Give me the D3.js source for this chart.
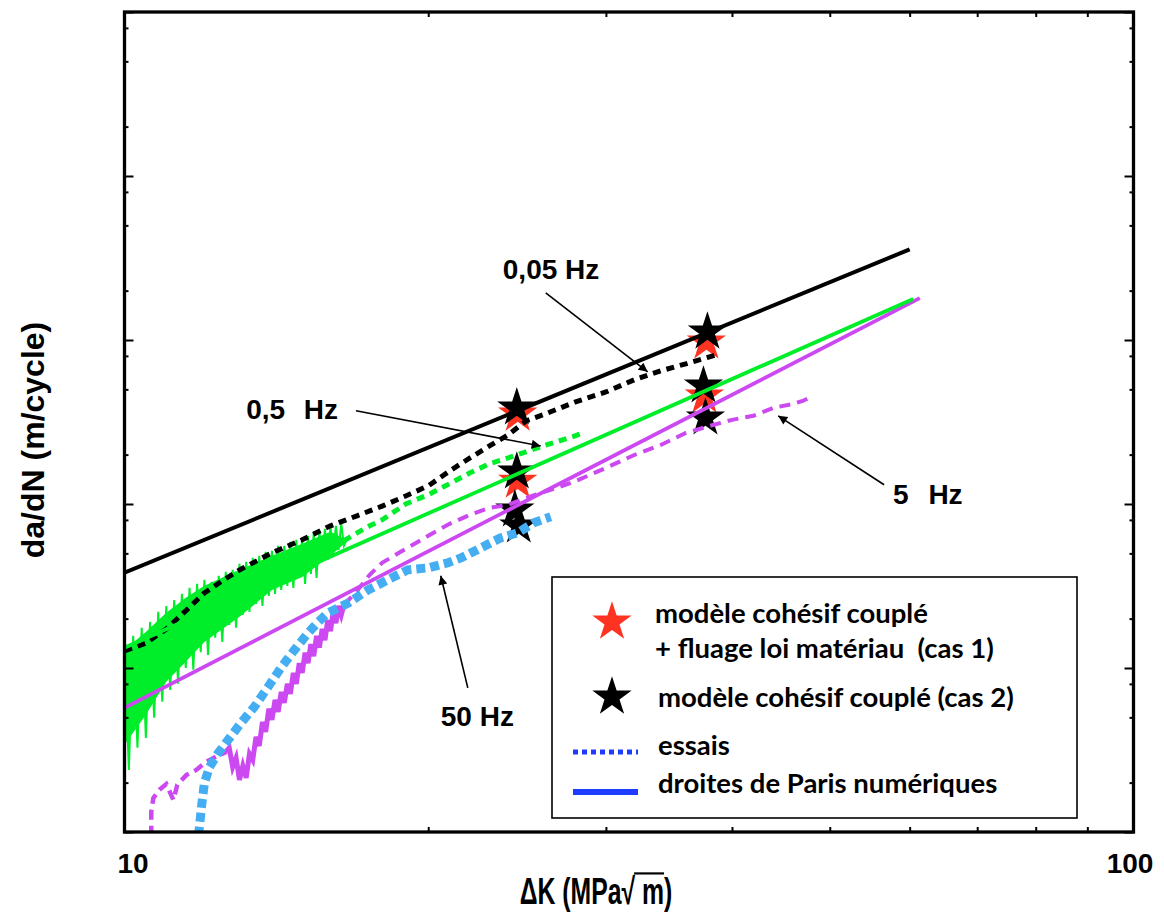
<!DOCTYPE html>
<html><head><meta charset="utf-8">
<script src="https://cdn.jsdelivr.net/npm/d3@7"></script>
<style>
body{margin:0;background:#fff;}
svg{display:block;}
</style></head><body>
<svg id="chart" width="1164" height="918"></svg>
<script>
// ---------------- DATA ----------------
const xTickLabels = [10, 100];
const xMinorTicks = [20, 30, 40, 50, 60, 70, 80, 90];
const yMajorTicks = [1e-10, 1e-9, 1e-8, 1e-7, 1e-6, 1e-5];
const yMinorTicks = [2e-10,5e-10,8e-10,2e-9,5e-9,8e-9,2e-8,5e-8,8e-8,2e-7,5e-7,8e-7,2e-6,5e-6,8e-6];

// Paris lines (numerical)
const paris005K = [10, 60];
const paris005V = [3.81e-9, 3.57e-7];
const paris05K = [10, 60.5];
const paris05V = [1.33e-9, 1.78e-7];
const paris5K = [10, 61.4];
const paris5V = [5.72e-10, 1.80e-7];

// tests 0,05 Hz (black dashed)
const test005K = [10,10.5,11,11.5,12,12.5,13,14,15,16,17,18,19,20,21,22,23,24,25,26,28,30,32,34,36,38,38.5];
const test005V = [1.27e-9,1.42e-9,1.73e-9,2.23e-9,2.87e-9,3.40e-9,3.96e-9,5.04e-9,6.05e-9,7.36e-9,8.47e-9,9.7e-9,1.12e-8,1.29e-8,1.59e-8,1.91e-8,2.26e-8,2.64e-8,3.21e-8,3.50e-8,4.20e-8,4.82e-8,5.72e-8,6.49e-8,7.16e-8,7.9e-8,8.1e-8];

// tests 0,5 Hz (green) : noisy part + dashed tail
const test05NoiseK = [10.0,10.1,10.2,10.3,10.4,10.5,10.6,10.7,10.8,10.9,11.0,11.1,11.2,11.3,11.4,11.5,11.6,11.7,11.8,11.9,12.0,12.1,12.2,12.3,12.4,12.5,12.6,12.7,12.8,12.9,13.0,13.1,13.2,13.3,13.4,13.5,13.6,13.7,13.8,13.9,14.0,14.1,14.2,14.3,14.4,14.5,14.6,14.7,14.8,14.9,15.0,15.1,15.2,15.3,15.4,15.5,15.6,15.7,15.8,15.9,16.0,16.1,16.2,16.3,16.4,16.5,16.6];
const test05NoiseV = [1.33e-9,2.39e-10,1.57e-9,3.26e-10,1.76e-9,3.75e-10,1.91e-9,4.97e-10,2.20e-9,6.22e-10,2.39e-9,7.36e-10,2.60e-9,8.01e-10,2.83e-9,1.00e-9,3.08e-9,9.75e-10,3.26e-9,1.25e-9,3.45e-9,1.20e-9,3.35e-9,1.53e-9,3.65e-9,1.44e-9,3.86e-9,1.83e-9,3.97e-9,1.76e-9,4.32e-9,2.11e-9,4.44e-9,2.20e-9,4.69e-9,2.46e-9,4.83e-9,2.39e-9,5.11e-9,2.75e-9,5.18e-9,2.83e-9,5.56e-9,2.99e-9,5.56e-9,3.17e-9,5.88e-9,3.08e-9,6.05e-9,3.54e-9,6.22e-9,3.26e-9,6.40e-9,3.75e-9,6.67e-9,3.54e-9,6.86e-9,4.44e-9,7.06e-9,4.56e-9,7.26e-9,4.97e-9,7.36e-9,5.25e-9,7.57e-9,5.56e-9,6.05e-9];
const test05CoreK = [10,10.5,11,11.5,12,13,14,15,16,16.6];
const test05CoreTopV = [1.29e-9,1.66e-9,2.17e-9,2.68e-9,3.17e-9,3.97e-9,4.83e-9,5.72e-9,6.77e-9,6.05e-9];
const test05CoreBotV = [3.40e-10,5.18e-10,8.24e-10,1.09e-9,1.44e-9,2.05e-9,2.99e-9,3.59e-9,4.83e-9,5.88e-9];
const test05K = [16.5,17,17.5,18,19,20,21,22,23,24,25,26,27,28,28.3];
const test05V = [5.97e-9,6.67e-9,7.36e-9,8.0e-9,1.0e-8,1.14e-8,1.33e-8,1.55e-8,1.76e-8,1.91e-8,2.08e-8,2.26e-8,2.43e-8,2.61e-8,2.68e-8];

// tests 5 Hz (magenta) : early dashed, noisy, dashed tail
const test5StartK = [10.63,10.63,10.68,10.83,11.00,11.18,11.28,11.52,11.78,12.05,12.42,12.62];
const test5StartV = [0.95e-10,1.33e-10,1.61e-10,1.81e-10,1.96e-10,1.57e-10,1.94e-10,2.23e-10,2.39e-10,2.68e-10,2.95e-10,3.08e-10];
const test5NoiseK = [12.6,12.7,12.8,12.9,13.0,13.1,13.2,13.3,13.4,13.5,13.6,13.7,13.8,13.9,14.0,14.1,14.2,14.3,14.4,14.5,14.6,14.7,14.8,14.9,15.0,15.1,15.2,15.3,15.4,15.5,15.6,15.7,15.8,15.9,16.0,16.1,16.2,16.3,16.4,16.5];
const test5NoiseV = [3.08e-10,3.26e-10,2.49e-10,2.83e-10,2.08e-10,2.53e-10,2.14e-10,2.99e-10,2.75e-10,3.80e-10,3.35e-10,4.69e-10,4.08e-10,5.64e-10,4.83e-10,6.40e-10,5.40e-10,7.16e-10,6.13e-10,8.01e-10,6.96e-10,9.35e-10,8.01e-10,1.07e-9,9.35e-10,1.24e-9,1.07e-9,1.40e-9,1.18e-9,1.57e-9,1.33e-9,1.73e-9,1.48e-9,1.96e-9,1.68e-9,2.20e-9,1.88e-9,2.39e-9,2.11e-9,2.43e-9];
const test5K = [16.5,17,17.5,18,19,20,21,22,23,24,25,26,27,28,30,32,34,36,38,40,42,44,46,47,47.5];
const test5V = [2.43e-9,2.95e-9,3.70e-9,4.38e-9,5.33e-9,6.40e-9,7.57e-9,8.59e-9,9.48e-9,9.89e-9,1.09e-8,1.18e-8,1.27e-8,1.38e-8,1.66e-8,1.99e-8,2.29e-8,2.71e-8,2.99e-8,3.26e-8,3.45e-8,3.86e-8,4.08e-8,4.25e-8,4.38e-8];

// tests 50 Hz (light blue dotted)
const test50K = [11.84,11.92,12.00,12.14,12.39,12.67,13.05,13.45,13.88,14.30,14.74,15.21,15.56,15.91,16.66,17.43,18.24,19.09,20.0,20.92,21.55,22.55,23.60,24.53,25.44,26.45];
const test50V = [0.95e-10,1.42e-10,1.99e-10,2.49e-10,3.04e-10,3.65e-10,4.63e-10,5.80e-10,7.68e-10,1.01e-9,1.29e-9,1.64e-9,1.91e-9,2.17e-9,2.49e-9,2.99e-9,3.45e-9,3.97e-9,4.08e-9,4.38e-9,4.69e-9,5.40e-9,6.22e-9,6.67e-9,7.68e-9,8.35e-9];

// model points
const cas1K = [24.53, 24.53, 37.73, 37.56];
const cas1V = [3.54e-8, 1.38e-8, 9.75e-8, 4.56e-8];
const cas2K = [24.48, 24.48, 24.37, 24.59, 37.82, 37.48, 37.65];
const cas2V = [3.86e-8, 1.57e-8, 9.22e-9, 7.36e-9, 1.12e-7, 5.25e-8, 3.35e-8];

// annotations (label anchor, arrow tail, arrow tip) in data units
const annLabels = ["0,05 Hz", "0,5 Hz", "5 Hz", "50 Hz"];
const annTextK = [23.71, 13.20, 57.77, 20.58];
const annTextV = [2.36e-7, 3.30e-8, 1.0e-8, 4.44e-10];
const annTailK = [26.15, 16.96, 56.6, 21.89];
const annTailV = [1.94e-7, 3.70e-8, 1.31e-8, 7.57e-10];
const annTipK = [33.0, 25.85, 44.45, 20.58];
const annTipV = [6.40e-8, 2.26e-8, 3.45e-8, 3.65e-9];

const legendLabels = ["modèle cohésif couplé", "+ fluage loi matériau  (cas 1)", "modèle cohésif couplé (cas 2)", "essais", "droites de Paris numériques"];

// ---------------- CHART ----------------
(function () {
const svg = d3.select('#chart');
const pL = 124.5, pR = 1133.5, pT = 12, pB = 832;
const x = d3.scaleLog().domain([10, 100]).range([pL, pR]);
const y = d3.scaleLog().domain([1e-10, 1e-5]).range([pB, pT]);
const zip = (a, b) => a.map((k, i) => [k, b[i]]);
const line = d3.line().x(d => x(d[0])).y(d => y(d[1]));

const GREEN = '#00ee2a', MAGENTA = '#cc48f0', LBLUE = '#45aef2', RED = '#ff3322', LEGBLUE = '#1e3cff';

const defs = svg.append('defs');
defs.append('clipPath').attr('id', 'clip').append('rect')
  .attr('x', pL).attr('y', pT).attr('width', pR - pL).attr('height', pB - pT);
defs.append('marker').attr('id', 'arrow').attr('viewBox', '0 0 10 10')
  .attr('refX', 10).attr('refY', 5).attr('markerWidth', 14).attr('markerHeight', 9)
  .attr('markerUnits', 'userSpaceOnUse').attr('orient', 'auto')
  .append('path').attr('d', 'M0,0 L10,5 L0,10 Z').attr('fill', '#000');

const plot = svg.append('g').attr('clip-path', 'url(#clip)');

// stars (below curves)
const starSym = d3.symbol().type(d3.symbolStar).size(480);
plot.append('g').selectAll('path').data(zip(cas1K, cas1V)).join('path')
  .attr('d', starSym).attr('transform', d => `translate(${x(d[0])},${y(d[1])})`).attr('fill', RED);
plot.append('g').selectAll('path').data(zip(cas2K, cas2V)).join('path')
  .attr('d', starSym).attr('transform', d => `translate(${x(d[0])},${y(d[1])})`).attr('fill', '#000');

// green noisy tests
const area = d3.area().x(d => x(d[0])).y0(d => y(d[1])).y1(d => y(d[2]));
plot.append('path').datum(test05CoreK.map((k, i) => [k, test05CoreBotV[i], test05CoreTopV[i]]))
  .attr('d', area).attr('fill', GREEN);
plot.append('path').datum(zip(test05NoiseK, test05NoiseV)).attr('d', line)
  .attr('fill', 'none').attr('stroke', GREEN).attr('stroke-width', 2).attr('stroke-linejoin', 'miter');
plot.append('path').datum(zip(test05K, test05V)).attr('d', line)
  .attr('fill', 'none').attr('stroke', GREEN).attr('stroke-width', 5).attr('stroke-dasharray', '8,6');

// magenta tests
plot.append('path').datum(zip(test5StartK, test5StartV)).attr('d', line)
  .attr('fill', 'none').attr('stroke', MAGENTA).attr('stroke-width', 4.5).attr('stroke-dasharray', '10,6');
plot.append('path').datum(zip(test5NoiseK, test5NoiseV)).attr('d', line)
  .attr('fill', 'none').attr('stroke', MAGENTA).attr('stroke-width', 5).attr('stroke-linejoin', 'miter');
plot.append('path').datum(zip(test5K, test5V)).attr('d', line)
  .attr('fill', 'none').attr('stroke', MAGENTA).attr('stroke-width', 4).attr('stroke-dasharray', '11,7');

// light blue 50 Hz tests
plot.append('path').datum(zip(test50K, test50V)).attr('d', line)
  .attr('fill', 'none').attr('stroke', LBLUE).attr('stroke-width', 9).attr('stroke-dasharray', '9,5');

// black 0,05 Hz tests
plot.append('path').datum(zip(test005K, test005V)).attr('d', line)
  .attr('fill', 'none').attr('stroke', '#000').attr('stroke-width', 5).attr('stroke-dasharray', '8,6');

// Paris lines
[[paris5K, paris5V, MAGENTA, 3.8], [paris05K, paris05V, GREEN, 3.8], [paris005K, paris005V, '#000', 4]].forEach(([k, v, c, w]) => {
  plot.append('path').datum(zip(k, v)).attr('d', line)
    .attr('fill', 'none').attr('stroke', c).attr('stroke-width', w);
});

// annotations
const annWordSpacing = [0, 11, 12, 0];
const ann = svg.append('g');
annLabels.forEach((t, i) => {
  ann.append('line')
    .attr('x1', x(annTailK[i])).attr('y1', y(annTailV[i]))
    .attr('x2', x(annTipK[i])).attr('y2', y(annTipV[i]))
    .attr('stroke', '#000').attr('stroke-width', 1.6).attr('marker-end', 'url(#arrow)');
  ann.append('text').attr('x', x(annTextK[i])).attr('y', y(annTextV[i]))
    .attr('font-family', 'Liberation Sans, Arial, sans-serif').attr('font-weight', 'bold')
    .attr('word-spacing', annWordSpacing[i])
    .attr('font-size', 28).attr('fill', '#000').text(t);
});

// axes frame + ticks
const axG = svg.append('g');
axG.append('g').attr('transform', `translate(0,${pB})`)
  .call(d3.axisBottom(x).tickValues(xMinorTicks).tickSize(-5).tickFormat(''));
axG.append('g').attr('transform', `translate(0,${pT})`)
  .call(d3.axisTop(x).tickValues(xMinorTicks).tickSize(-5).tickFormat(''));
axG.append('g').attr('transform', `translate(${pL},0)`)
  .call(d3.axisLeft(y).tickValues(yMajorTicks).tickSize(-9).tickFormat(''));
axG.append('g').attr('transform', `translate(${pL},0)`)
  .call(d3.axisLeft(y).tickValues(yMinorTicks).tickSize(-4).tickFormat(''));
axG.append('g').attr('transform', `translate(${pR},0)`)
  .call(d3.axisRight(y).tickValues(yMajorTicks).tickSize(-9).tickFormat(''));
axG.append('g').attr('transform', `translate(${pR},0)`)
  .call(d3.axisRight(y).tickValues(yMinorTicks).tickSize(-4).tickFormat(''));
axG.selectAll('.domain').remove();
axG.selectAll('.tick line').attr('stroke', '#000').attr('stroke-width', 2);

// labels
const lab = svg.append('g').attr('transform', `translate(0,${pB})`)
  .call(d3.axisBottom(x).tickValues(xTickLabels).tickSize(0).tickPadding(0).tickFormat(d3.format('d')));
lab.select('.domain').remove();
lab.selectAll('text').attr('y', 41).attr('dy', 0)
  .attr('dx', d => d === 10 ? 8 : -4)
  .attr('font-family', 'Liberation Sans, Arial, sans-serif').attr('font-weight', 'bold')
  .attr('font-size', 28).attr('fill', '#000');

svg.append('rect').attr('x', pL).attr('y', pT).attr('width', pR - pL).attr('height', pB - pT)
  .attr('fill', 'none').attr('stroke', '#000').attr('stroke-width', 3.3);

// axis titles
svg.append('text').attr('transform', 'translate(44,440) rotate(-90)').attr('text-anchor', 'middle')
  .attr('font-family', 'Liberation Sans, Arial, sans-serif').attr('font-weight', 'bold')
  .attr('font-size', 32).attr('fill', '#000').text('da/dN (m/cycle)');

const xtG = svg.append('g').attr('transform', 'translate(596,904) scale(0.67,1)');
const xt = xtG.append('text').attr('x', 0).attr('y', 0).attr('text-anchor', 'middle')
  .attr('font-family', 'Liberation Sans, Arial, sans-serif').attr('font-weight', 'bold')
  .attr('font-size', 37).attr('fill', '#000');
xt.append('tspan').text('ΔK (MPa');
xt.append('tspan').text('√');
xt.append('tspan').text('\u00a0m');
xt.append('tspan').text(')');
try {
  const n = xt.node();
  const txt = n.textContent;
  const iR = txt.indexOf('√');
  const e0 = n.getExtentOfChar(iR);
  const e1 = n.getExtentOfChar(iR + 2);
  xtG.append('line').attr('x1', e0.x + e0.width - 1.5).attr('x2', e1.x + e1.width)
    .attr('y1', e0.y + 3.5).attr('y2', e0.y + 3.5).attr('stroke', '#000').attr('stroke-width', 2.2);
} catch (e) {}

// legend
const lg = svg.append('g');
lg.append('rect').attr('x', 552).attr('y', 577).attr('width', 525).attr('height', 241)
  .attr('fill', '#fff').attr('stroke', '#000').attr('stroke-width', 1.6);
lg.append('path').attr('d', starSym).attr('transform', 'translate(612,622)').attr('fill', RED);
lg.append('path').attr('d', starSym).attr('transform', 'translate(612,697)').attr('fill', '#000');
lg.append('line').attr('x1', 573).attr('x2', 638).attr('y1', 752).attr('y2', 752)
  .attr('stroke', LEGBLUE).attr('stroke-width', 5).attr('stroke-dasharray', '5,4');
lg.append('line').attr('x1', 573).attr('x2', 638).attr('y1', 792).attr('y2', 792)
  .attr('stroke', LEGBLUE).attr('stroke-width', 6);
const legX = [655, 655, 658, 658, 658];
const legY = [623, 658, 707, 755, 793];
legendLabels.forEach((t, i) => {
  lg.append('text').attr('x', legX[i]).attr('y', legY[i])
    .attr('font-family', 'Lato, Open Sans, sans-serif').attr('font-weight', 'bold')
    .attr('font-size', 27.5).attr('fill', '#000').style('white-space', 'pre').text(t);
});
})();
</script>
</body></html>
